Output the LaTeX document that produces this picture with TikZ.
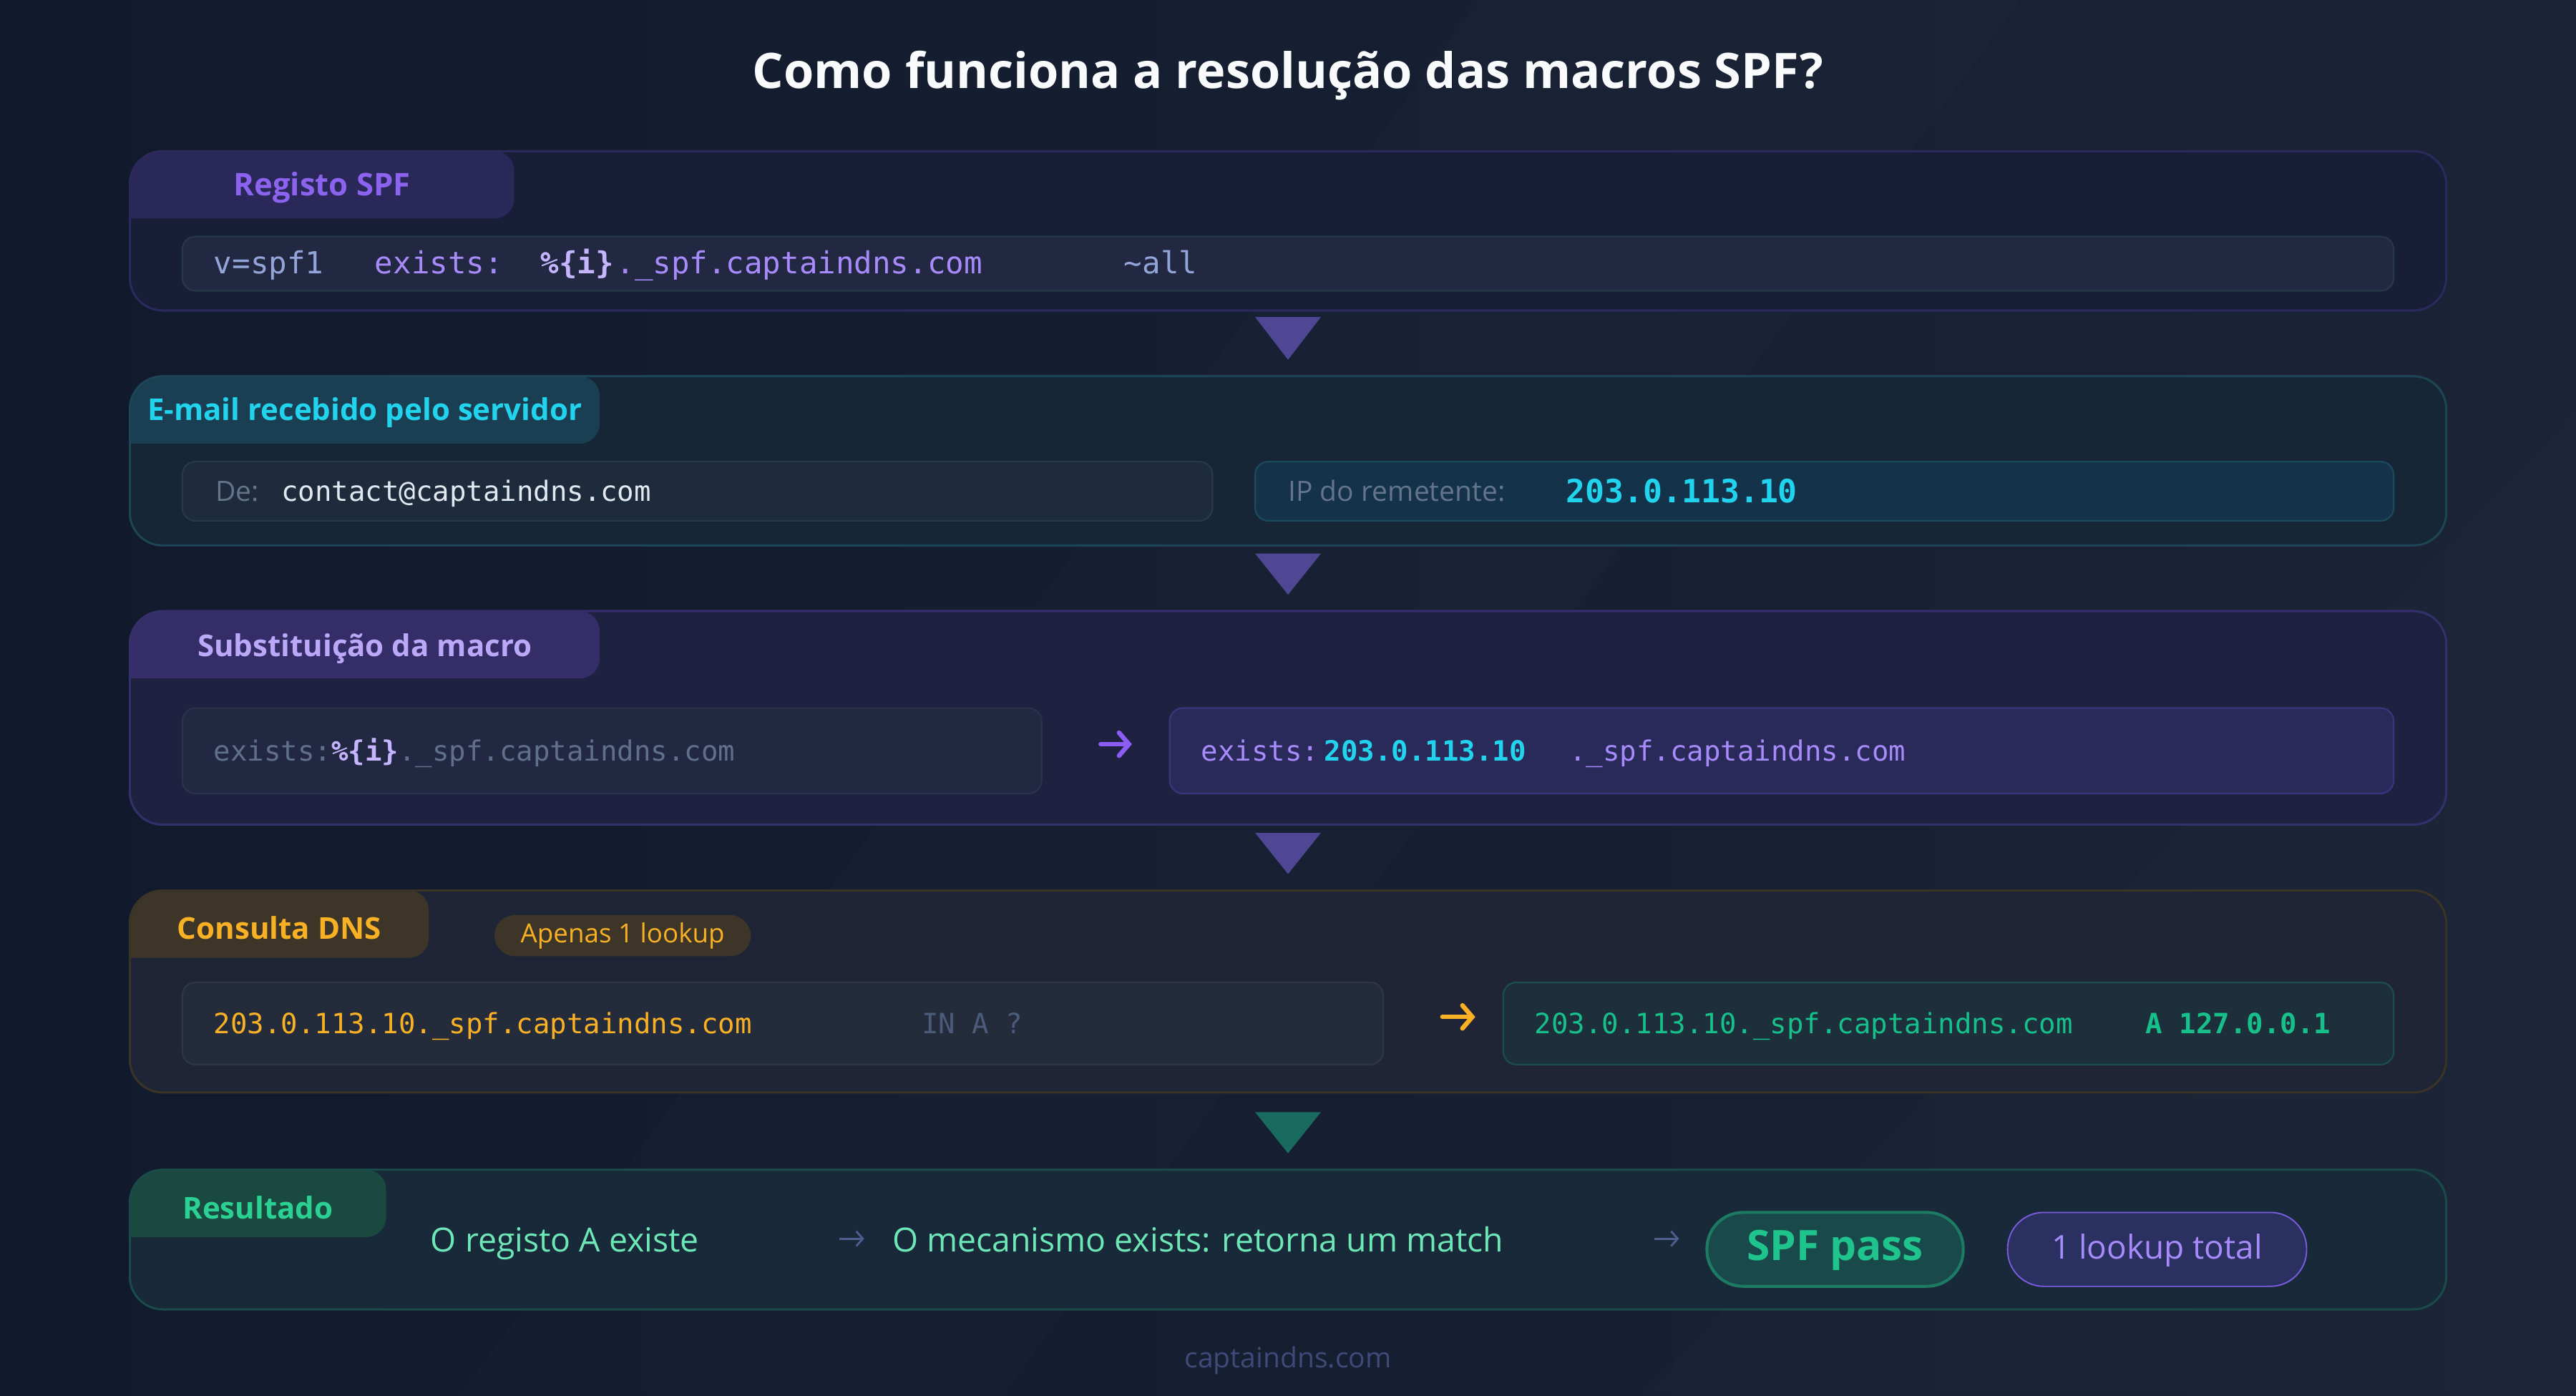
\documentclass[tikz,border=0pt]{standalone}
\usepackage{fontspec}
\setmainfont{Open Sans}
\setmonofont{DejaVu Sans Mono}
\usetikzlibrary{arrows.meta,calc}
\definecolor{bgL}{HTML}{111A2C}
\definecolor{bgR}{HTML}{1B2436}
\definecolor{titleC}{HTML}{F8FAFC}
\definecolor{p1F}{HTML}{181D38}\definecolor{p1B}{HTML}{2C2A5C}
\definecolor{t1F}{HTML}{2A2858}\definecolor{t1T}{HTML}{8B63EF}
\definecolor{b1F}{HTML}{232842}\definecolor{b1B}{HTML}{263848}
\definecolor{c1a}{HTML}{93A4D8}\definecolor{lav}{HTML}{A78BFA}\definecolor{lavL}{HTML}{C4B5FD}
\definecolor{p2F}{HTML}{172637}\definecolor{p2B}{HTML}{1D4555}
\definecolor{t2F}{HTML}{1B3F52}\definecolor{cyanC}{HTML}{22D3EE}
\definecolor{b2LF}{HTML}{1D2B3C}\definecolor{b2LB}{HTML}{25394A}
\definecolor{grayT}{HTML}{64748B}\definecolor{emailC}{HTML}{E2E8F0}
\definecolor{b2RF}{HTML}{14324A}\definecolor{b2RB}{HTML}{1B4A5C}
\definecolor{p3F}{HTML}{1E2140}\definecolor{p3B}{HTML}{34306C}
\definecolor{t3F}{HTML}{352D68}\definecolor{t3T}{HTML}{BBA8F8}
\definecolor{b3LF}{HTML}{232842}\definecolor{b3LB}{HTML}{2A3149}
\definecolor{gray3}{HTML}{5F7088}\definecolor{purpA}{HTML}{8B5CF6}
\definecolor{b3RF}{HTML}{29295A}\definecolor{b3RB}{HTML}{3A347C}
\definecolor{p4F}{HTML}{1F2536}\definecolor{p4B}{HTML}{3A3427}
\definecolor{t4F}{HTML}{3D3528}\definecolor{orangeC}{HTML}{F8B024}
\definecolor{b4LF}{HTML}{242B3B}\definecolor{b4LB}{HTML}{2E3545}
\definecolor{gray4}{HTML}{4B5B7A}
\definecolor{b4RF}{HTML}{1C2F3B}\definecolor{b4RB}{HTML}{1C4D4A}
\definecolor{greenC}{HTML}{17C08A}
\definecolor{p5F}{HTML}{182A3A}\definecolor{p5B}{HTML}{1B4A4B}
\definecolor{t5F}{HTML}{19493F}\definecolor{t5T}{HTML}{2BD193}
\definecolor{mint}{HTML}{6EE7B7}\definecolor{smallA}{HTML}{4F5D8F}
\definecolor{passF}{HTML}{19494A}\definecolor{passB}{HTML}{1D7A63}\definecolor{passT}{HTML}{1FC48D}
\definecolor{lookF}{HTML}{2A3060}\definecolor{lookB}{HTML}{7C5CE0}
\definecolor{footC}{HTML}{3F4A78}
\definecolor{triP}{HTML}{4F4794}\definecolor{triG}{HTML}{1A6B5F}
\tikzset{
  panel/.style={rounded corners=20pt, line width=1.2pt, inner sep=0pt, outer sep=0pt, minimum width=1410pt},
  pborder/.style={rounded corners=20pt, line width=1.2pt},
  tabtxt/.style={font=\bfseries\fontsize{18.3}{21}\selectfont, inner sep=0pt},
  codebox/.style={rounded corners=8pt, line width=1pt, inner sep=0pt, outer sep=0pt},
  monoA/.style={font=\ttfamily\fontsize{18.5}{22}\selectfont, anchor=base west, inner sep=0pt},
  monoB/.style={font=\ttfamily\fontsize{17}{20}\selectfont, anchor=base west, inner sep=0pt},
  lbl/.style={font=\fontsize{17}{20}\selectfont, anchor=base west, inner sep=0pt, text=grayT},
  restxt/.style={font=\fontsize{20.2}{24}\selectfont, anchor=base west, inner sep=0pt, text=mint},
  bigarrow/.style={line width=2.8pt, line cap=round, line join=round},
  smallarrow/.style={line width=1.2pt, smallA, -{Straight Barb[length=4pt,width=9pt]}},
  pill/.style={rounded corners=12.5pt, inner sep=0pt, outer sep=0pt}
}
\begin{document}
\begin{tikzpicture}[x=1pt,y=-1pt]
\useasboundingbox (0,0) rectangle (1568,849.33);
\shade[left color=bgL,right color=bgR] (0,0) rectangle (1568,849.33);
\fill[white,opacity=0.012] (280,849.33) -- (900,0) -- (1230,0) -- (610,849.33) -- cycle;
\fill[white,opacity=0.010] (1000,849.33) -- (1568,250) -- (1568,849.33) -- cycle;

% title
\node[font=\bfseries\fontsize{29.8}{34}\selectfont, text=titleC] (title) at (784,46) {Como funciona a resolução das macros SPF?};

% ---------- panel 1
\node[panel, fill=p1F, draw=p1B, minimum height=97pt] (P1) at (784,140.5) {};
\fill[t1F] (79,133) [rounded corners=20pt] -- (79,92) [rounded corners=12pt] -- (313,92) -- (313,133) -- (200,133) [sharp corners] -- cycle;
\draw[pborder, p1B] (P1.north west) rectangle (P1.south east);
\node[tabtxt, text=t1T, font=\bfseries\fontsize{19}{21}\selectfont] (T1) at (196,114) {Registo SPF};
\node[codebox, fill=b1F, draw=b1B, minimum width=1346pt, minimum height=33pt] (B1) at (784,160.5) {};
\node[monoA, text=c1a] (c1v) at (130,166.5) {v=spf1};
\node[monoA, text=lav] (c1e) at (228,166.5) {exists:};
\node[monoA, text=lavL, font=\ttfamily\bfseries\fontsize{18.5}{22}\selectfont] (c1m) at (329,166.5) {\%\{i\}};
\node[monoA, text=lav] (c1d) at (375,166.5) {.\_spf.captaindns.com};
\node[monoA, text=c1a] (c1a) at (684,166.5) {\textasciitilde all};

\fill[triP] (764,193) -- (804,193) -- (784,219) -- cycle;

% ---------- panel 2
\node[panel, fill=p2F, draw=p2B, minimum height=103pt] (P2) at (784,280.5) {};
\fill[t2F] (79,270) [rounded corners=20pt] -- (79,229) [rounded corners=12pt] -- (365,229) -- (365,270) -- (250,270) [sharp corners] -- cycle;
\draw[pborder, p2B] (P2.north west) rectangle (P2.south east);
\node[tabtxt, text=cyanC] (T2) at (222,251) {E-mail recebido pelo servidor};
\node[codebox, fill=b2LF, draw=b2LB, minimum width=627pt, minimum height=36pt] (B2L) at (424.5,299) {};
\node[lbl] (de) at (131,305) {De:};
\node[monoB, text=emailC] (email) at (171,305) {contact@captaindns.com};
\node[codebox, fill=b2RF, draw=b2RB, minimum width=693pt, minimum height=36pt] (B2R) at (1110.5,299) {};
\node[lbl] (ipl) at (784,305) {IP do remetente:};
\node[monoB, text=cyanC, font=\ttfamily\bfseries\fontsize{19.5}{22}\selectfont] (ip) at (953,306) {203.0.113.10};

\fill[triP] (764,337) -- (804,337) -- (784,362) -- cycle;

% ---------- panel 3
\node[panel, fill=p3F, draw=p3B, minimum height=130pt] (P3) at (784,437) {};
\fill[t3F] (79,413) [rounded corners=20pt] -- (79,372) [rounded corners=12pt] -- (365,372) -- (365,413) -- (250,413) [sharp corners] -- cycle;
\draw[pborder, p3B] (P3.north west) rectangle (P3.south east);
\node[tabtxt, text=t3T] (T3) at (222,395) {Substituição da macro};
\node[codebox, fill=b3LF, draw=b3LB, minimum width=523pt, minimum height=52pt] (B3L) at (372.5,457) {};
\node[monoB, text=gray3] (m3l) at (130,463) {exists:{\bfseries\color{lavL}\%\{i\}}.\_spf.captaindns.com};
\node[codebox, fill=b3RF, draw=b3RB, minimum width=745pt, minimum height=52pt] (B3R) at (1084.5,457) {};
\node[monoB, text=lav] (m3a) at (731,463) {exists:};
\node[monoB, text=cyanC, font=\ttfamily\bfseries\fontsize{17}{20}\selectfont] (m3b) at (806,463) {203.0.113.10};
\node[monoB, text=lav] (m3c) at (955,463) {.\_spf.captaindns.com};
\draw[bigarrow, purpA, -{Straight Barb[length=6pt,width=14pt,line cap=round]}, shorten <=36pt, shorten >=23pt] ([yshift=4pt]B3L.east) -- ([yshift=4pt]B3R.west);

\fill[triP] (764,507) -- (804,507) -- (784,532) -- cycle;

% ---------- panel 4
\node[panel, fill=p4F, draw=p4B, minimum height=123pt] (P4) at (784,603.5) {};
\fill[t4F] (79,583) [rounded corners=20pt] -- (79,542) [rounded corners=12pt] -- (261,542) -- (261,583) -- (200,583) [sharp corners] -- cycle;
\draw[pborder, p4B] (P4.north west) rectangle (P4.south east);
\node[tabtxt, text=orangeC] (T4) at (170,565) {Consulta DNS};
\node[pill, fill=t4F, minimum width=156pt, minimum height=25pt] (pill4) at (379,569.5) {};
\node[font=\fontsize{16}{19}\selectfont, text=orangeC, inner sep=0pt] (pill4t) at (379,569.5) {Apenas 1 lookup};
\node[codebox, fill=b4LF, draw=b4LB, minimum width=731pt, minimum height=50pt] (B4L) at (476.5,623) {};
\node[monoB, text=orangeC] (q4) at (130,629) {203.0.113.10.\_spf.captaindns.com};
\node[monoB, text=gray4] (q4b) at (561,629) {IN A ?};
\node[codebox, fill=b4RF, draw=b4RB, minimum width=542pt, minimum height=50pt] (B4R) at (1186,623) {};
\node[monoB, text=greenC] (r4) at (934,629) {203.0.113.10.\_spf.captaindns.com};
\node[monoB, text=greenC, font=\ttfamily\bfseries\fontsize{17}{20}\selectfont] (r4b) at (1306,629) {A 127.0.0.1};
\draw[bigarrow, orangeC, -{Straight Barb[length=6pt,width=14pt,line cap=round]}, shorten <=36pt, shorten >=17pt] ([yshift=4pt]B4L.east) -- ([yshift=4pt]B4R.west);

\fill[triG] (764,677) -- (804,677) -- (784,702) -- cycle;

% ---------- panel 5
\node[panel, fill=p5F, draw=p5B, minimum height=85pt] (P5) at (784,754.5) {};
\fill[t5F] (79,753) [rounded corners=20pt] -- (79,712) [rounded corners=12pt] -- (235,712) -- (235,753) -- (180,753) [sharp corners] -- cycle;
\draw[pborder, p5B] (P5.north west) rectangle (P5.south east);
\node[tabtxt, text=t5T] (T5) at (157,735) {Resultado};
\node[restxt] (r1) at (262,762) {O registo A existe};
\node[restxt] (r2) at (543,762) {O mecanismo exists: retorna um match};
\coordinate (a1s) at (511,754);
\coordinate (a1e) at (526,754);
\coordinate (a2s) at (1007,754);
\coordinate (a2e) at (1022,754);
\draw[smallarrow] (a1s) -- (a1e);
\draw[smallarrow] (a2s) -- (a2e);
\node[pill, rounded corners=22pt, fill=passF, draw=passB, line width=1.8pt, minimum width=156pt, minimum height=45pt] (pass) at (1117,760.5) {};
\node[font=\bfseries\fontsize{25.5}{30}\selectfont, text=passT, inner sep=0pt] (passt) at (1117,761) {SPF pass};
\node[pill, rounded corners=22pt, fill=lookF, draw=lookB, line width=0.8pt, minimum width=182pt, minimum height=45pt] (look) at (1313,760.5) {};
\node[font=\fontsize{20}{24}\selectfont, text=lav, inner sep=0pt] (lookt) at (1313,761) {1 lookup total};

% footer
\node[font=\fontsize{17}{20}\selectfont, text=footC] (foot) at (784,828) {captaindns.com};
\end{tikzpicture}
\end{document}
